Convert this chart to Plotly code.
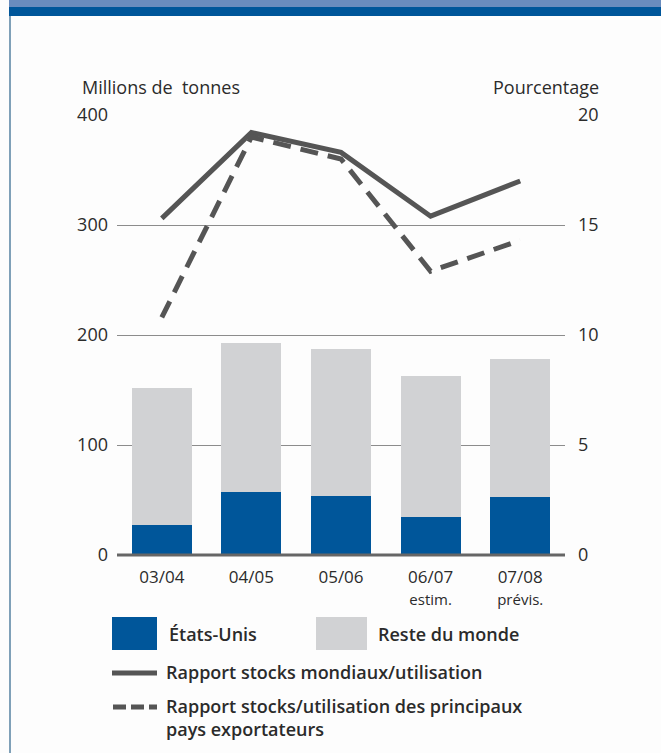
import plotly.graph_objects as go

# --- data ---
campagnes = ["03/04", "04/05", "05/06", "06/07", "07/08"]
sous_titres = ["", "", "", "estim.", "prévis."]
etats_unis = [27, 57, 54, 35, 53]          # millions de tonnes
reste_monde = [125, 136, 133, 128, 125]    # millions de tonnes
rapport_mondial = [15.3, 19.2, 18.3, 15.4, 17.0]      # %
rapport_exportateurs = [10.8, 19.0, 18.0, 12.9, 14.3]  # %

BLEU = "#00569a"
GRIS_CLAIR = "#d1d2d4"
GRIS_LIGNE = "#555555"
TEXTE = "#2b2b2b"
FONT = "Open Sans"

W, H = 661, 753
L, R, T, B = 117, 96, 115, 198
PW, PH = W - L - R, H - T - B


def px_x(px):
    return (px - L) / PW


def px_y(py):
    return (H - B - py) / PH


x_idx = list(range(len(campagnes)))
tick_text = [
    c if not s else f"{c}<br><span style='font-size:15px'>{s}</span>"
    for c, s in zip(campagnes, sous_titres)
]

fig = go.Figure()
fig.add_trace(go.Bar(x=x_idx, y=etats_unis, marker=dict(color=BLEU, line=dict(width=0)),
                     width=0.67, name="États-Unis"))
fig.add_trace(go.Bar(x=x_idx, y=reste_monde, marker=dict(color=GRIS_CLAIR, line=dict(width=0)),
                     width=0.67, name="Reste du monde"))
fig.add_trace(go.Scatter(x=x_idx, y=rapport_mondial, yaxis="y2", mode="lines",
                         line=dict(color=GRIS_LIGNE, width=5), name="mondial"))
fig.add_trace(go.Scatter(x=x_idx, y=rapport_exportateurs, yaxis="y2", mode="lines",
                         line=dict(color=GRIS_LIGNE, width=5, dash="18px,10px"), name="exportateurs"))

shapes = [
    # header bands
    dict(type="rect", xref="paper", yref="paper", x0=px_x(9), x1=px_x(W), y0=px_y(7), y1=px_y(0),
         fillcolor="#6a8cbe", line=dict(width=0), layer="below"),
    dict(type="rect", xref="paper", yref="paper", x0=px_x(9), x1=px_x(W), y0=px_y(16), y1=px_y(7),
         fillcolor=BLEU, line=dict(width=0), layer="below"),
    # left border
    dict(type="line", xref="paper", yref="paper", x0=px_x(10), x1=px_x(10), y0=px_y(H), y1=px_y(16),
         line=dict(color="#7fa0b8", width=2)),
    # zero line
    dict(type="line", xref="paper", yref="paper", x0=0, x1=1, y0=0, y1=0,
         line=dict(color="#666666", width=3)),
    # legend swatches
    dict(type="rect", xref="paper", yref="paper", x0=px_x(112), x1=px_x(157), y0=px_y(650), y1=px_y(617),
         fillcolor=BLEU, line=dict(width=0)),
    dict(type="rect", xref="paper", yref="paper", x0=px_x(316), x1=px_x(367), y0=px_y(650), y1=px_y(617),
         fillcolor=GRIS_CLAIR, line=dict(width=0)),
    dict(type="line", xref="paper", yref="paper", x0=px_x(112), x1=px_x(157), y0=px_y(673), y1=px_y(673),
         line=dict(color=GRIS_LIGNE, width=5)),
    dict(type="line", xref="paper", yref="paper", x0=px_x(113), x1=px_x(157), y0=px_y(707), y1=px_y(707),
         line=dict(color=GRIS_LIGNE, width=5, dash="13px,5px")),
]

legend_font = dict(family=FONT, size=18, color=TEXTE, weight=600)
axis_title_font = dict(family=FONT, size=18, color=TEXTE)
annotations = [
    dict(text="Millions de  tonnes", xref="paper", yref="paper", x=px_x(80), y=px_y(87),
         xanchor="left", yanchor="middle", showarrow=False, font=axis_title_font),
    dict(text="Pourcentage", xref="paper", yref="paper", x=px_x(601), y=px_y(87),
         xanchor="right", yanchor="middle", showarrow=False, font=axis_title_font),
    dict(text="États-Unis", xref="paper", yref="paper", x=px_x(167), y=px_y(634),
         xanchor="left", yanchor="middle", showarrow=False, font=legend_font),
    dict(text="Reste du monde", xref="paper", yref="paper", x=px_x(376), y=px_y(634),
         xanchor="left", yanchor="middle", showarrow=False, font=legend_font),
    dict(text="Rapport stocks mondiaux/utilisation", xref="paper", yref="paper", x=px_x(164), y=px_y(672),
         xanchor="left", yanchor="middle", showarrow=False, font=legend_font),
    dict(text="Rapport stocks/utilisation des principaux<br>pays exportateurs", xref="paper", yref="paper",
         x=px_x(164), y=px_y(692), xanchor="left", yanchor="top", align="left", showarrow=False,
         font=legend_font),
]

fig.update_layout(
    width=W, height=H,
    margin=dict(l=L, r=R, t=T, b=B),
    barmode="stack",
    showlegend=False,
    paper_bgcolor="#fdfdfd",
    plot_bgcolor="rgba(0,0,0,0)",
    font=dict(family=FONT, size=18, color=TEXTE),
    xaxis=dict(tickvals=x_idx, ticktext=tick_text, range=[-0.5, 4.5], showgrid=False,
               zeroline=False, showline=False, ticks="", tickfont=dict(size=17),
               ticklabelstandoff=10),
    yaxis=dict(range=[0, 400], tickvals=[0, 100, 200, 300, 400], showgrid=True,
               gridcolor="#8c8c8c", gridwidth=1, zeroline=False, showline=False, ticks="",
               ticklabelstandoff=8),
    yaxis2=dict(range=[0, 20], tickvals=[0, 5, 10, 15, 20], overlaying="y", side="right",
                showgrid=False, zeroline=False, showline=False, ticks="", ticklabelstandoff=12),
    shapes=shapes,
    annotations=annotations,
)

fig.write_html("out.html", config={"displayModeBar": False},
               post_script="document.body.style.margin='0';")
